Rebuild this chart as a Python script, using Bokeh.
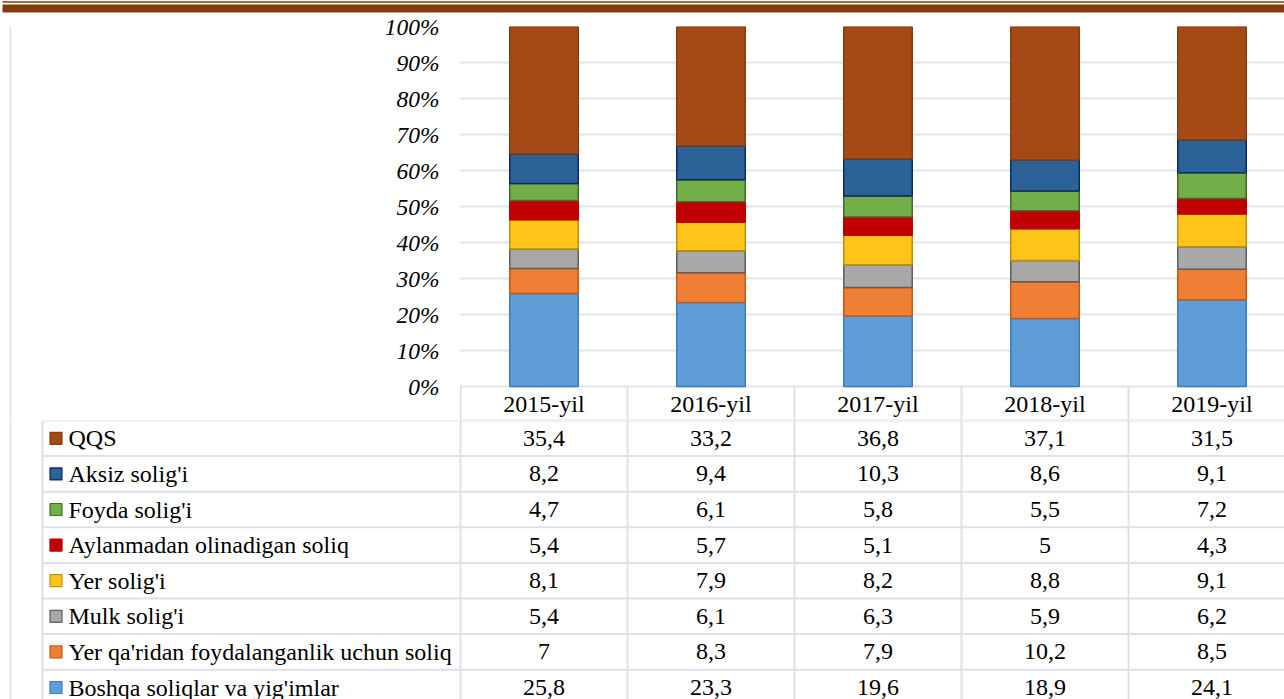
from bokeh.plotting import figure
from bokeh.layouts import column, row
from bokeh.models import Range1d, FixedTicker, ColumnDataSource
from bokeh.core.properties import value
from bokeh.embed import file_html
from bokeh.resources import INLINE

# ---------------- data ----------------
years = ["2015-yil", "2016-yil", "2017-yil", "2018-yil", "2019-yil"]
series_names = [
    "QQS",
    "Aksiz solig'i",
    "Foyda solig'i",
    "Aylanmadan olinadigan soliq",
    "Yer solig'i",
    "Mulk solig'i",
    "Yer qa'ridan foydalanganlik uchun soliq",
    "Boshqa soliqlar va yig'imlar",
]
qqs = [35.4, 33.2, 36.8, 37.1, 31.5]
aksiz = [8.2, 9.4, 10.3, 8.6, 9.1]
foyda = [4.7, 6.1, 5.8, 5.5, 7.2]
aylanma = [5.4, 5.7, 5.1, 5.0, 4.3]
yer = [8.1, 7.9, 8.2, 8.8, 9.1]
mulk = [5.4, 6.1, 6.3, 5.9, 6.2]
yerqa = [7.0, 8.3, 7.9, 10.2, 8.5]
boshqa = [25.8, 23.3, 19.6, 18.9, 24.1]
pct_ticks = [0, 10, 20, 30, 40, 50, 60, 70, 80, 90, 100]
pct_labels = ["0%", "10%", "20%", "30%", "40%", "50%", "60%", "70%", "80%", "90%", "100%"]

series_values = [qqs, aksiz, foyda, aylanma, yer, mulk, yerqa, boshqa]  # table order
fills = ["#A64A15", "#2B6399", "#72AF49", "#C00000", "#FFC41A", "#A8A8A8", "#F07F36", "#5E9DD7"]
outlines = ["#843C0C", "#0E2A66", "#46692C", "#C00000", "#BF9000", "#5E5E5E", "#C55A11", "#3A7BBE"]

# ---------------- layout constants ----------------
PAGE_W = 1284
COL_W = 167.0
COL0 = 460.0
BAND_H = 13
FRAME_TOP = 26
ZERO_Y = 386
HEAD_BOTTOM = 420
PX_PCT = (ZERO_Y - FRAME_TOP) / 100.0
ROW_H = 35.6
TABLE_H = 699 - HEAD_BOTTOM
CHART_H = HEAD_BOTTOM - BAND_H
STRIP_W = 40
GRID = "#E0E4EB"
LINE = "#DCE1E9"
FONT = "Liberation Serif"
FS = "24px"


def xd(px):
    return -0.5 + (px - COL0) / COL_W


def bare(p):
    p.min_border_left = 0
    p.min_border_right = 0
    p.min_border_top = 0
    p.min_border_bottom = 0
    p.outline_line_color = None
    p.background_fill_color = "white"
    p.border_fill_color = "white"
    return p


# ---------------- top band ----------------
band = bare(figure(width=PAGE_W, height=BAND_H, x_range=Range1d(0, PAGE_W), y_range=Range1d(BAND_H, 0),
                   x_axis_type=None, y_axis_type=None, toolbar_location=None, output_backend="svg"))
band.quad(left=[2, 2], right=[PAGE_W, PAGE_W], top=[0.8, 4], bottom=[2.3, 12],
          fill_color="#843C0C", line_color=None)

# ---------------- left strip (chart area border) ----------------
strip = bare(figure(width=STRIP_W, height=CHART_H, x_range=Range1d(0, STRIP_W),
                    y_range=Range1d(HEAD_BOTTOM, BAND_H),
                    x_axis_type=None, y_axis_type=None, toolbar_location=None, output_backend="svg"))
strip.segment(x0=[10], y0=[BAND_H - 1], x1=[10], y1=[HEAD_BOTTOM], line_color=LINE, line_width=1.5)

# ---------------- chart ----------------
ymin = -(HEAD_BOTTOM - ZERO_Y) / PX_PCT
chart = figure(width=PAGE_W - STRIP_W, height=CHART_H,
               x_range=Range1d(xd(459), xd(PAGE_W)), y_range=Range1d(ymin, 100),
               x_axis_type=None, toolbar_location=None, output_backend="svg")
bare(chart)
chart.min_border_left = 459 - STRIP_W
chart.min_border_top = FRAME_TOP - BAND_H

totals = [sum(v[i] for v in series_values) for i in range(len(years))]
stack_order = list(range(len(series_names)))[::-1]  # bottom to top
data = {"x": list(range(len(years)))}
keys = []
for k in stack_order:
    key = "s%d" % k
    keys.append(key)
    data[key] = [series_values[k][i] / totals[i] * 100.0 for i in range(len(years))]
src = ColumnDataSource(data)
chart.vbar_stack(keys, x="x", width=0.41, source=src,
                 fill_color=[fills[k] for k in stack_order],
                 line_color=[outlines[k] for k in stack_order], line_width=1.5)

yax = chart.yaxis[0]
yax.ticker = FixedTicker(ticks=pct_ticks)
yax.major_label_overrides = {t: l for t, l in zip(pct_ticks, pct_labels)}
yax.axis_line_color = None
yax.major_tick_line_color = None
yax.minor_tick_line_color = None
yax.major_tick_out = 0
yax.major_tick_in = 0
yax.major_label_standoff = 20
yax.major_label_text_font = FONT
yax.major_label_text_font_style = "italic"
yax.major_label_text_font_size = "23.5px"
yax.major_label_text_color = "black"
chart.ygrid.ticker = FixedTicker(ticks=pct_ticks)
chart.ygrid.grid_line_color = GRID
chart.ygrid.grid_line_width = 2

# header row of the data table (inside the chart frame, below 0%)
bounds = [i - 0.5 for i in range(len(years) + 1)]
chart.segment(x0=bounds, y0=[0] * len(bounds), x1=bounds, y1=[ymin] * len(bounds),
              line_color=LINE, line_width=2)
chart.segment(x0=[xd(459)], y0=[ymin], x1=[xd(PAGE_W)], y1=[ymin], line_color=LINE, line_width=2)
chart.text(x=list(range(len(years))), y=[ymin / 2] * len(years), text=years,
           text_align="center", text_baseline="middle", text_font=value(FONT),
           text_font_size=FS, text_color="black")

# ---------------- table body ----------------
n = len(series_names)
table = bare(figure(width=PAGE_W, height=TABLE_H, x_range=Range1d(xd(0), xd(PAGE_W)),
                    y_range=Range1d(TABLE_H / ROW_H, 0),
                    x_axis_type=None, y_axis_type=None, toolbar_location=None, output_backend="svg"))
left_edge = xd(42)
rows_y = list(range(n + 1))
table.segment(x0=[left_edge] * len(rows_y), y0=rows_y, x1=[xd(PAGE_W)] * len(rows_y), y1=rows_y,
              line_color=LINE, line_width=2)
vx = [left_edge] + bounds
table.segment(x0=vx, y0=[0] * len(vx), x1=vx, y1=[n] * len(vx), line_color=LINE, line_width=2)
table.segment(x0=[xd(10)], y0=[0], x1=[xd(10)], y1=[n], line_color=LINE, line_width=1.5)

centers = [r + 0.5 for r in range(n)]
table.rect(x=[xd(55.5)] * n, y=centers, width=12, height=12, width_units="screen", height_units="screen",
           fill_color=fills, line_color=outlines, line_width=1.2)
table.text(x=[xd(68)] * n, y=centers, text=series_names, text_align="left", text_baseline="middle",
           text_font=value(FONT), text_font_size=FS, text_color="black")


def fmt(v):
    return ("%g" % v).replace(".", ",")


vx_t, vy_t, vt = [], [], []
for r, vals in enumerate(series_values):
    for i, v in enumerate(vals):
        vx_t.append(i)
        vy_t.append(r + 0.5)
        vt.append(fmt(v))
table.text(x=vx_t, y=vy_t, text=vt, text_align="center", text_baseline="middle",
           text_font=value(FONT), text_font_size=FS, text_color="black")

layout = column(band, row(strip, chart, spacing=0), table, spacing=0)
open("out.html", "w").write(file_html(layout, INLINE))
